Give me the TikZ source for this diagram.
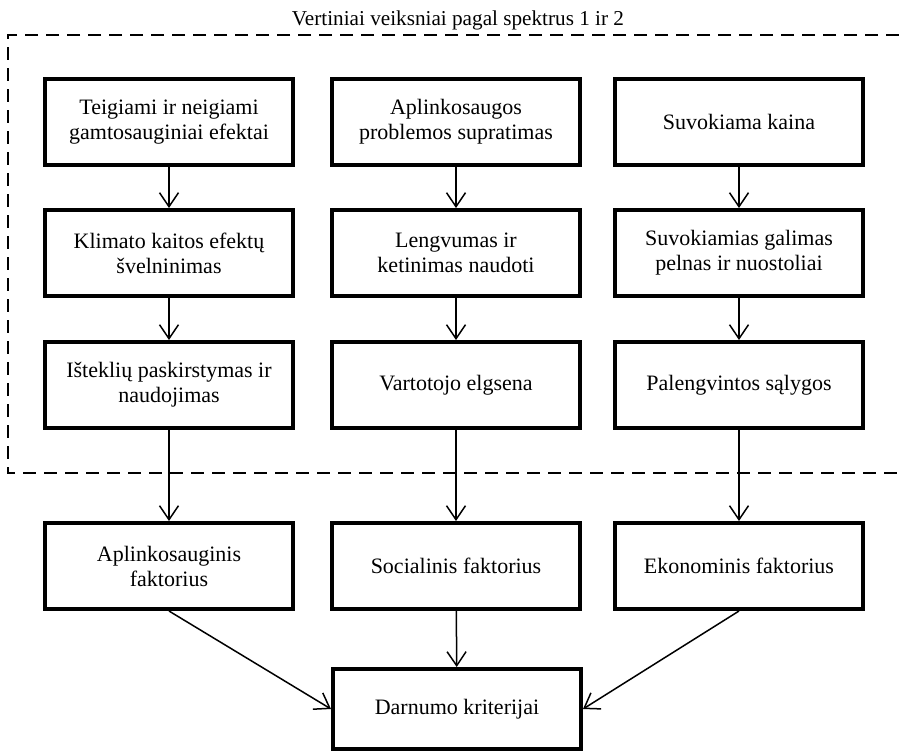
\documentclass[tikz,border=0pt]{standalone}
\usepackage{fontspec}
\setmainfont{Liberation Serif}
\usetikzlibrary{arrows.meta}

\begin{document}
\begin{tikzpicture}[x=1pt,y=-1pt,
  box/.style={draw, line width=4pt, minimum width=248pt, minimum height=86pt,
    align=center, inner sep=0pt, font=\fontsize{22}{25}\selectfont},
  link/.style={line width=1.5pt,
    -{Straight Barb[length=14pt,width=19pt,line width=1.5pt]}},
  frame/.style={line width=2.6pt, dash pattern=on 13pt off 8pt},
  title/.style={font=\fontsize{21.2}{24}\selectfont, anchor=base}]

\useasboundingbox (0,0) rectangle (899,753);

% value factors enclosed by the dashed frame
\draw[frame] (899,35) -- (8,35) -- (8,473) -- (899,473);
\node[title] (ttl) at (458,25) {Vertiniai veiksniai pagal spektrus 1 ir 2};

% column 1
\node[box] (a1) at (169,122) {Teigiami ir neigiami\\gamtosauginiai efektai};
\node[box] (a2) at (169,253) {Klimato kaitos efektų\\švelninimas};
\node[box] (a3) at (169,385) {Išteklių paskirstymas ir\\naudojimas};
\node[box] (a4) at (169,566) {Aplinkosauginis\\faktorius};

% column 2
\node[box] (b1) at (456,122) {Aplinkosaugos\\problemos supratimas};
\node[box] (b2) at (456,253) {Lengvumas ir\\ketinimas naudoti};
\node[box] (b3) at (456,385) {Vartotojo elgsena};
\node[box] (b4) at (456,566) {Socialinis faktorius};

% column 3
\node[box] (c1) at (739,122) {Suvokiama kaina};
\node[box] (c2) at (739,253) {Suvokiamias galimas\\pelnas ir nuostoliai};
\node[box] (c3) at (739,385) {Palengvintos sąlygos};
\node[box] (c4) at (739,566) {Ekonominis faktorius};

% result
\node[box, minimum height=80pt] (d) at (457,709) {Darnumo kriterijai};

% connectors
\foreach \c in {a,b,c}{
  \draw[link] (\c1) -- (\c2);
  \draw[link] (\c2) -- (\c3);
  \draw[link] (\c3) -- (\c4);
}
\draw[link] (a4.south) -- (d.west);
\draw[link] (b4) -- (d);
\draw[link] (c4.south) -- (d.east);
\end{tikzpicture}
\end{document}
